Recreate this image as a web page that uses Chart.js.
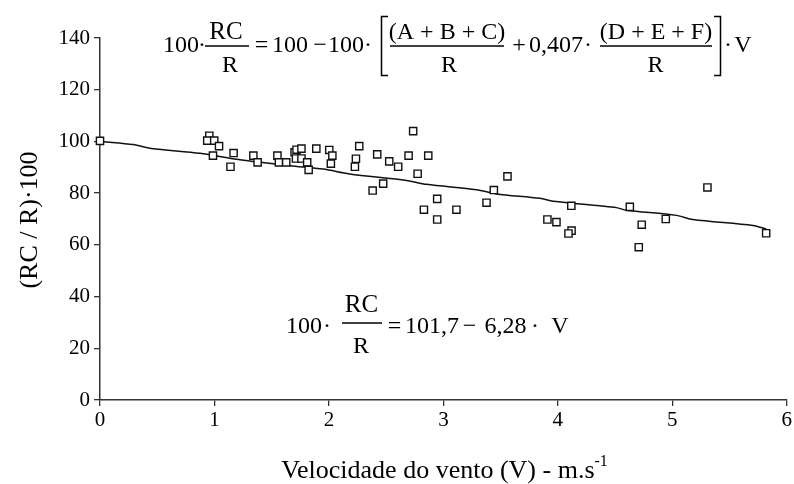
<!DOCTYPE html>
<html><head><meta charset="utf-8">
<script src="https://cdn.jsdelivr.net/npm/chart.js@4.4.0/dist/chart.umd.min.js"></script>
<style>html,body{margin:0;padding:0;background:#fff;}canvas{display:block;}</style>
</head><body>
<canvas id="c" width="794" height="484"></canvas>
<script>
// Observed points: wind velocity (m/s) and 100*RC/R
const velocity = [0, 0.955, 0.937, 0.998, 1.04, 0.987, 1.167, 1.14, 1.34, 1.377,
  1.55, 1.563, 1.627, 1.70, 1.717, 1.76, 1.712, 1.76, 1.81, 1.823,
  1.89, 2.003, 2.03, 2.017, 2.736, 2.265, 2.236, 2.227, 2.422, 2.527,
  2.605, 2.696, 2.868, 2.775, 2.474, 2.382, 2.946, 2.83, 3.114, 2.946,
  3.56, 3.441, 3.377, 4.118, 3.909, 3.988, 4.12, 4.093,
  5.307, 4.629, 4.943, 4.733, 4.707, 5.82];
const ratio = [100.2, 102.2, 100.3, 100.3, 98.2, 94.5, 95.5, 90.2, 94.5, 91.9,
  94.5, 91.9, 91.9, 95.8, 96.8, 97.2, 93.4, 93.4, 91.9, 89.0,
  97.2, 96.7, 94.5, 91.4, 104.0, 98.2, 93.3, 90.2, 95.0, 92.3,
  90.2, 94.5, 94.5, 87.5, 83.7, 81.0, 77.8, 73.6, 73.6, 69.8,
  86.5, 81.2, 76.3, 75.1, 69.8, 68.8, 65.5, 64.4,
  82.2, 74.7, 70.0, 67.8, 59.1, 64.5];
// Model curve
const modelV = [0, 0.03, 0.29, 0.45, 0.873, 1.223, 1.66, 1.95, 2.18, 2.678, 2.852,
  3.289, 3.464, 3.843, 3.96, 4.367, 4.512, 4.6, 5.036, 5.18, 5.705, 5.82];
const modelY = [100.0, 99.9, 98.8, 97.3, 95.4, 92.9, 90.6, 89.3, 87.4, 84.9, 83.4,
  81.3, 79.7, 78.0, 76.9, 75.1, 74.4, 73.4, 71.4, 69.8, 67.5, 66.1];
// Axis ticks / titles
const xTicks = [0, 1, 2, 3, 4, 5, 6];
const yTicks = [0, 20, 40, 60, 80, 100, 120, 140];
const xTitle = 'Velocidade do vento (V) - m.s';
const xTitleSup = '-1';
const yTitle = '(RC / R)\u00B7100';

const SERIF = "'Liberation Serif', 'Times New Roman', Times, serif";
const AXIS = '#333';

function txt(ctx, s, x, y, size, align) {
  ctx.font = size + 'px ' + SERIF;
  ctx.textAlign = align || 'center';
  ctx.textBaseline = 'alphabetic';
  ctx.fillText(s, x, y);
}
function bar(ctx, x1, x2, y) {
  ctx.beginPath(); ctx.moveTo(x1, y); ctx.lineTo(x2, y); ctx.stroke();
}

const textPlugin = {
  id: 'texts',
  afterDraw(chart) {
    const ctx = chart.ctx;
    ctx.save();
    ctx.fillStyle = '#000';
    ctx.strokeStyle = '#000';
    ctx.lineWidth = 1.3;
    const F = 24;
    // Top equation
    txt(ctx, '100', 181, 52, F);
    txt(ctx, '\u00B7', 202, 52, F);
    txt(ctx, 'RC', 226, 39, F + 1);
    bar(ctx, 205, 249, 46);
    txt(ctx, 'R', 230, 72, F);
    txt(ctx, '=', 261.5, 52, F);
    txt(ctx, '100', 290, 52, F);
    txt(ctx, '\u2212', 320, 52, F);
    txt(ctx, '100', 346, 52, F);
    txt(ctx, '\u00B7', 368, 52, F);
    ctx.lineWidth = 1.5;
    ctx.beginPath(); ctx.moveTo(388, 16.5); ctx.lineTo(381.5, 16.5); ctx.lineTo(381.5, 75.5); ctx.lineTo(388, 75.5); ctx.stroke();
    ctx.lineWidth = 1.3;
    txt(ctx, '(A + B + C)', 447, 39, F);
    bar(ctx, 390, 504, 46);
    txt(ctx, 'R', 449, 72, F);
    txt(ctx, '+', 519, 52, F);
    txt(ctx, '0,407', 556, 52, F);
    txt(ctx, '\u00B7', 588, 52, F);
    txt(ctx, '(D + E + F)', 656, 39, F);
    bar(ctx, 600, 712, 46);
    txt(ctx, 'R', 655.5, 72, F);
    ctx.lineWidth = 1.5;
    ctx.beginPath(); ctx.moveTo(714, 16.5); ctx.lineTo(720.5, 16.5); ctx.lineTo(720.5, 75.5); ctx.lineTo(714, 75.5); ctx.stroke();
    ctx.lineWidth = 1.3;
    txt(ctx, '\u00B7', 728, 52, F);
    txt(ctx, 'V', 743, 52, F);
    // Bottom equation
    txt(ctx, '100', 304, 333, F);
    txt(ctx, '\u00B7', 327, 333, F);
    txt(ctx, 'RC', 361.5, 312, F + 1);
    bar(ctx, 342, 382, 323);
    txt(ctx, 'R', 361, 353, F);
    txt(ctx, '=', 394.5, 333, F);
    txt(ctx, '101,7', 432, 333, F);
    txt(ctx, '\u2212', 469.5, 333, F);
    txt(ctx, '6,28', 505.5, 333, F);
    txt(ctx, '\u00B7', 535, 333, F);
    txt(ctx, 'V', 560, 333, F);
    // X title
    ctx.font = '26px ' + SERIF;
    const w1 = ctx.measureText(xTitle).width;
    ctx.font = '16px ' + SERIF;
    const w2 = ctx.measureText(xTitleSup).width;
    const x0 = 444.5 - (w1 + w2) / 2;
    txt(ctx, xTitle, x0, 478, 26, 'left');
    txt(ctx, xTitleSup, x0 + w1, 466, 16, 'left');
    // Y title
    ctx.translate(30, 220);
    ctx.rotate(-Math.PI / 2);
    ctx.font = '26px ' + SERIF;
    ctx.textAlign = 'center';
    ctx.textBaseline = 'middle';
    ctx.fillText(yTitle, 0, 0);
    ctx.restore();
  }
};

const ctx = document.getElementById('c').getContext('2d');
new Chart(ctx, {
  type: 'scatter',
  data: {
    datasets: [
      {
        label: 'Observado',
        data: velocity.map((v, i) => ({ x: v, y: ratio[i] })),
        pointStyle: 'rect',
        pointRadius: 5.1,
        pointBackgroundColor: '#fff',
        pointBorderColor: '#111',
        pointBorderWidth: 1.4,
        showLine: false,
        clip: false
      },
      {
        type: 'line',
        label: 'Modelo',
        data: modelV.map((v, i) => ({ x: v, y: modelY[i] })),
        borderColor: '#111',
        borderWidth: 1.5,
        pointRadius: 0,
        tension: 0.3,
        fill: false,
        clip: false
      }
    ]
  },
  options: {
    responsive: false,
    animation: false,
    devicePixelRatio: 1,
    layout: { padding: { top: 38, right: 6, left: 0, bottom: 0 } },
    plugins: { legend: { display: false }, tooltip: { enabled: false } },
    scales: {
      x: {
        type: 'linear', min: xTicks[0], max: xTicks[xTicks.length - 1],
        afterBuildTicks(s) { s.ticks = xTicks.map(v => ({ value: v })); },
        ticks: { color: '#000', font: { family: SERIF, size: 21 }, padding: 2, maxRotation: 0 },
        grid: { display: true, drawOnChartArea: false, drawTicks: true, tickLength: 6, color: AXIS, lineWidth: 1.3 },
        border: { display: true, color: AXIS, width: 1.5 },
        afterFit(s) { s.height = 84; }
      },
      y: {
        type: 'linear', min: yTicks[0], max: yTicks[yTicks.length - 1],
        afterBuildTicks(s) { s.ticks = yTicks.map(v => ({ value: v })); },
        ticks: { color: '#000', font: { family: SERIF, size: 21 }, padding: 4 },
        grid: { display: true, drawOnChartArea: false, drawTicks: true, tickLength: 6, color: AXIS, lineWidth: 1.3 },
        border: { display: true, color: AXIS, width: 1.5 },
        afterFit(s) { s.width = 100; }
      }
    }
  },
  plugins: [textPlugin]
});
</script>
</body></html>
